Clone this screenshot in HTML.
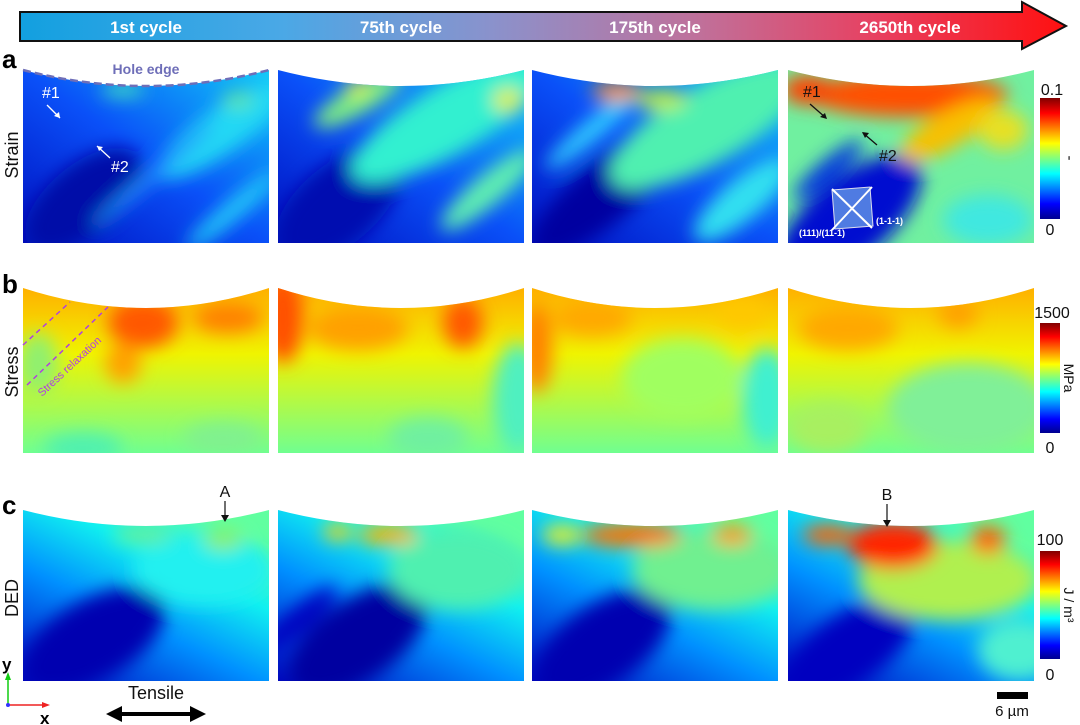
<!DOCTYPE html>
<html><head><meta charset="utf-8"><style>
html,body{margin:0;padding:0;background:#fff;}
svg{display:block;font-family:"Liberation Sans",Arial,sans-serif;}
</style></head><body>
<svg width="1080" height="725" viewBox="0 0 1080 725" xmlns="http://www.w3.org/2000/svg">
<defs>
<linearGradient id="bar" x1="0" x2="1" y1="0" y2="0">
<stop offset="0" stop-color="#12a0e0"/><stop offset="0.25" stop-color="#4aa8e6"/>
<stop offset="0.45" stop-color="#8a92cc"/><stop offset="0.65" stop-color="#c0709a"/>
<stop offset="0.82" stop-color="#e84060"/><stop offset="1" stop-color="#ff1010"/>
</linearGradient>
<linearGradient id="jet" x1="0" x2="0" y1="1" y2="0">
<stop offset="0" stop-color="#00008f"/><stop offset="0.125" stop-color="#0000ff"/>
<stop offset="0.375" stop-color="#00ffff"/><stop offset="0.625" stop-color="#ffff00"/>
<stop offset="0.875" stop-color="#ff0000"/><stop offset="1" stop-color="#800000"/>
</linearGradient>
<filter id="bl" x="-20%" y="-20%" width="140%" height="140%"><feGaussianBlur stdDeviation="9"/></filter>
<clipPath id="ca"><path d="M0,0 Q123,32 246,0 L246,173 L0,173 Z"/></clipPath>
<clipPath id="cb"><path d="M0,0 Q123,40 246,0 L246,165 L0,165 Z"/></clipPath>
<clipPath id="cc"><path d="M0,0 Q123,32 246,0 L246,171 L0,171 Z"/></clipPath>
<linearGradient id="sa" x1="0" y1="1" x2="1" y2="0"><stop offset="0" stop-color="#0010c0"/><stop offset="0.5" stop-color="#0a50f8"/><stop offset="1" stop-color="#10c8f8"/></linearGradient>
<linearGradient id="sb" x1="0" y1="0" x2="0" y2="1"><stop offset="0" stop-color="#ffb000"/><stop offset="0.4" stop-color="#f0f400"/><stop offset="1" stop-color="#70ff90"/></linearGradient>
<linearGradient id="sc" x1="0" y1="1" x2="0.7" y2="0"><stop offset="0" stop-color="#0008c0"/><stop offset="0.45" stop-color="#0090ff"/><stop offset="0.75" stop-color="#10f0f0"/><stop offset="1" stop-color="#60ffa0"/></linearGradient>
</defs>

<path d="M20,12 L1022,12 L1022,2 L1066,26 L1022,49 L1022,41 L20,41 Z" fill="url(#bar)" stroke="#111" stroke-width="2"/>
<g fill="#fff" font-weight="bold" font-size="17" text-anchor="middle">
<text x="146" y="33">1st cycle</text><text x="401" y="33">75th cycle</text>
<text x="655" y="33">175th cycle</text><text x="910" y="33">2650th cycle</text>
</g>

<!-- ROW A strain -->
<g transform="translate(23,70)" clip-path="url(#ca)">
<rect width="246" height="173" fill="url(#sa)"/>
<g filter="url(#bl)">
<ellipse cx="60" cy="130" rx="70" ry="35" fill="#0008a8" transform="rotate(-40 60 130)"/>
<ellipse cx="200" cy="60" rx="80" ry="22" fill="#20d8f4" transform="rotate(-35 200 60)"/>
<ellipse cx="130" cy="105" rx="80" ry="6" fill="#2090ff" transform="rotate(-40 130 105)"/>
<ellipse cx="210" cy="140" rx="60" ry="10" fill="#20c8f8" transform="rotate(-40 210 140)"/>
<ellipse cx="100" cy="20" rx="22" ry="7" fill="#40e0c0"/>
<ellipse cx="215" cy="30" rx="16" ry="8" fill="#60e8a0"/>
</g></g>
<g transform="translate(278,70)" clip-path="url(#ca)">
<rect width="246" height="173" fill="url(#sa)"/>
<g filter="url(#bl)">
<ellipse cx="60" cy="135" rx="75" ry="40" fill="#0008b0" transform="rotate(-40 60 135)"/>
<ellipse cx="170" cy="50" rx="110" ry="34" fill="#30f0d0" transform="rotate(-30 170 50)"/>
<ellipse cx="80" cy="30" rx="50" ry="14" fill="#80f080" transform="rotate(-30 80 30)"/>
<ellipse cx="210" cy="120" rx="60" ry="15" fill="#60f0b0" transform="rotate(-40 210 120)"/>
<ellipse cx="230" cy="30" rx="15" ry="12" fill="#e0f040"/>
<ellipse cx="80" cy="18" rx="12" ry="8" fill="#e0f040"/>
</g></g>
<g transform="translate(532,70)" clip-path="url(#ca)">
<rect width="246" height="173" fill="url(#sa)"/>
<g filter="url(#bl)">
<ellipse cx="70" cy="125" rx="90" ry="30" fill="#0006a0" transform="rotate(-40 70 125)"/>
<ellipse cx="175" cy="55" rx="110" ry="38" fill="#50f0b0" transform="rotate(-30 175 55)"/>
<ellipse cx="60" cy="60" rx="60" ry="10" fill="#30d0ff" transform="rotate(-40 60 60)"/>
<ellipse cx="85" cy="22" rx="25" ry="9" fill="#ff9000"/>
<ellipse cx="130" cy="30" rx="25" ry="10" fill="#c0f040"/>
<ellipse cx="210" cy="130" rx="60" ry="20" fill="#30e0f0" transform="rotate(-40 210 130)"/>
</g></g>
<g transform="translate(788,70)" clip-path="url(#ca)">
<rect width="246" height="173" fill="#70f0a0"/>
<g filter="url(#bl)">
<ellipse cx="60" cy="150" rx="90" ry="40" fill="#0010d0" transform="rotate(-40 60 150)"/>
<ellipse cx="40" cy="100" rx="45" ry="10" fill="#0030e0" transform="rotate(-40 40 100)"/>
<ellipse cx="120" cy="25" rx="100" ry="22" fill="#ff5000"/>
<ellipse cx="160" cy="60" rx="55" ry="18" fill="#f8c000" transform="rotate(-30 160 60)"/>
<ellipse cx="20" cy="20" rx="25" ry="15" fill="#ff4000"/>
<ellipse cx="215" cy="60" rx="25" ry="20" fill="#e8e020"/>
<ellipse cx="200" cy="150" rx="45" ry="25" fill="#40e8e0"/>
</g></g>

<!-- ROW B stress -->
<g transform="translate(23,288)" clip-path="url(#cb)">
<rect width="246" height="165" fill="url(#sb)"/>
<g filter="url(#bl)">
<ellipse cx="120" cy="35" rx="35" ry="25" fill="#ff5800"/>
<ellipse cx="205" cy="30" rx="35" ry="15" fill="#ff8000"/>
<ellipse cx="100" cy="75" rx="18" ry="20" fill="#ffa000"/>
<ellipse cx="15" cy="75" rx="20" ry="30" fill="#90f070"/>
<ellipse cx="60" cy="160" rx="40" ry="15" fill="#50f0b0"/>
<ellipse cx="200" cy="150" rx="40" ry="15" fill="#80f090"/>
</g></g>
<g transform="translate(278,288)" clip-path="url(#cb)">
<rect width="246" height="165" fill="url(#sb)"/>
<g filter="url(#bl)">
<ellipse cx="5" cy="30" rx="20" ry="45" fill="#ff5000"/>
<ellipse cx="80" cy="40" rx="50" ry="22" fill="#ffa000"/>
<ellipse cx="185" cy="35" rx="20" ry="25" fill="#ff5800"/>
<ellipse cx="240" cy="110" rx="25" ry="55" fill="#50f0c0"/>
<ellipse cx="150" cy="150" rx="40" ry="20" fill="#70f0a0"/>
</g></g>
<g transform="translate(532,288)" clip-path="url(#cb)">
<rect width="246" height="165" fill="url(#sb)"/>
<g filter="url(#bl)">
<ellipse cx="5" cy="60" rx="15" ry="45" fill="#ff8000"/>
<ellipse cx="60" cy="30" rx="40" ry="18" fill="#ffa800"/>
<ellipse cx="150" cy="90" rx="60" ry="40" fill="#a0ff60"/>
<ellipse cx="235" cy="110" rx="25" ry="50" fill="#40f0d0"/>
<ellipse cx="210" cy="25" rx="25" ry="15" fill="#ffc800"/>
</g></g>
<g transform="translate(788,288)" clip-path="url(#cb)">
<rect width="246" height="165" fill="url(#sb)"/>
<g filter="url(#bl)">
<ellipse cx="60" cy="40" rx="50" ry="22" fill="#ffa800"/>
<ellipse cx="170" cy="25" rx="20" ry="15" fill="#ffa000"/>
<ellipse cx="180" cy="120" rx="80" ry="45" fill="#80f098"/>
<ellipse cx="40" cy="140" rx="40" ry="25" fill="#a8f060"/>
</g></g>

<!-- ROW C DED -->
<g transform="translate(23,510)" clip-path="url(#cc)">
<rect width="246" height="171" fill="url(#sc)"/>
<g filter="url(#bl)">
<ellipse cx="70" cy="130" rx="80" ry="40" fill="#0000b0" transform="rotate(-30 70 130)"/>
<ellipse cx="180" cy="60" rx="70" ry="35" fill="#20f0f0"/>
<ellipse cx="200" cy="30" rx="20" ry="10" fill="#90f060"/>
<ellipse cx="120" cy="25" rx="30" ry="10" fill="#60f0a0"/>
</g></g>
<g transform="translate(278,510)" clip-path="url(#cc)">
<rect width="246" height="171" fill="url(#sc)"/>
<g filter="url(#bl)">
<ellipse cx="80" cy="130" rx="80" ry="40" fill="#0000a0" transform="rotate(-35 80 130)"/>
<ellipse cx="20" cy="110" rx="50" ry="12" fill="#0000c0" transform="rotate(-40 20 110)"/>
<ellipse cx="180" cy="60" rx="70" ry="40" fill="#50f0b0"/>
<ellipse cx="110" cy="25" rx="30" ry="10" fill="#ffb000"/>
<ellipse cx="60" cy="22" rx="15" ry="8" fill="#ffd000"/>
</g></g>
<g transform="translate(532,510)" clip-path="url(#cc)">
<rect width="246" height="171" fill="url(#sc)"/>
<g filter="url(#bl)">
<ellipse cx="70" cy="135" rx="80" ry="40" fill="#0000b0" transform="rotate(-35 70 135)"/>
<ellipse cx="180" cy="60" rx="80" ry="40" fill="#70f090"/>
<ellipse cx="100" cy="25" rx="50" ry="12" fill="#ff7000"/>
<ellipse cx="200" cy="25" rx="20" ry="10" fill="#ff9800"/>
<ellipse cx="30" cy="25" rx="20" ry="10" fill="#e8f020"/>
</g></g>
<g transform="translate(788,510)" clip-path="url(#cc)">
<rect width="246" height="171" fill="url(#sc)"/>
<g filter="url(#bl)">
<ellipse cx="60" cy="140" rx="80" ry="35" fill="#0000c0" transform="rotate(-35 60 140)"/>
<ellipse cx="160" cy="70" rx="90" ry="40" fill="#b0f050"/>
<ellipse cx="105" cy="35" rx="45" ry="24" fill="#ff2800"/>
<ellipse cx="40" cy="25" rx="25" ry="10" fill="#ff6000"/>
<ellipse cx="200" cy="30" rx="18" ry="14" fill="#ff6000"/>
<ellipse cx="230" cy="140" rx="40" ry="30" fill="#50f0d0"/>
</g></g>

<rect x="1040" y="98" width="20" height="121" fill="url(#jet)"/>
<rect x="1040" y="323" width="20" height="110" fill="url(#jet)"/>
<rect x="1040" y="551" width="20" height="108" fill="url(#jet)"/>
<g font-size="16" fill="#111" text-anchor="middle">
<text x="1052" y="95">0.1</text><text x="1050" y="235">0</text>
<text x="1052" y="318">1500</text><text x="1050" y="453">0</text>
<text x="1050" y="545">100</text><text x="1050" y="680">0</text>
<text transform="translate(1065,158) rotate(90)" font-size="15">-</text>
<text transform="translate(1064,378) rotate(90)" font-size="14">MPa</text>
<text transform="translate(1064,605) rotate(90)" font-size="14">J / m³</text>
</g>

<g font-weight="bold" font-size="26" fill="#000">
<text x="2" y="68">a</text><text x="2" y="293">b</text><text x="2" y="514">c</text>
</g>
<g font-size="18" fill="#111" text-anchor="middle">
<text transform="translate(18,155) rotate(-90)">Strain</text>
<text transform="translate(18,372) rotate(-90)">Stress</text>
<text transform="translate(18,598) rotate(-90)">DED</text>
</g>

<path d="M23,70 Q146,102 269,70" fill="none" stroke="#6e6eb8" stroke-width="2.5" stroke-dasharray="8,4"/>
<text x="146" y="74" fill="#6e6eb8" font-weight="bold" font-size="14" text-anchor="middle">Hole edge</text>

<g fill="#fff" font-size="16">
<text x="42" y="98">#1</text><text x="111" y="172">#2</text>
</g>
<g stroke="#fff" stroke-width="1.3"><line x1="47" y1="105" x2="60" y2="118"/><line x1="110" y1="158" x2="97" y2="146"/></g>
<path d="M60,118 l-1,-6 l-5,4 z M97,146 l6,1 l-4,4 z" fill="#fff"/>
<text x="803" y="97" font-size="16" fill="#111">#1</text><text x="879" y="161" font-size="16" fill="#111">#2</text>
<g stroke="#111" stroke-width="1.3"><line x1="810" y1="104" x2="826" y2="118"/><line x1="877" y1="145" x2="863" y2="133"/></g>
<path d="M827,119 l-2,-6 l-5,4 z M862,132 l7,1 l-4,5 z" fill="#111"/>
<polygon points="832,190 870,187 873,226 835,229" fill="#6aa0e8" fill-opacity="0.75" stroke="#dde" stroke-width="1"/>
<g stroke="#fff" stroke-width="2"><line x1="832" y1="230" x2="872" y2="187"/><line x1="832" y1="189" x2="872" y2="228"/></g>
<g fill="#fff" font-size="9" font-weight="bold"><text x="799" y="236">(111)/(11-1)</text><text x="876" y="224">(1-1-1)</text></g>

<g stroke="#b040e0" stroke-width="1.5" stroke-dasharray="5,4">
<line x1="23" y1="345" x2="70" y2="302"/><line x1="27" y1="385" x2="108" y2="307"/>
</g>
<text transform="translate(42,397) rotate(-43)" fill="#b040e0" font-size="11">Stress relaxation</text>

<text x="225" y="497" font-size="16" text-anchor="middle" fill="#111">A</text>
<line x1="225" y1="501" x2="225" y2="519" stroke="#111" stroke-width="1.2"/><path d="M221,515 L225,522 L229,515 Z" fill="#111"/>
<text x="887" y="500" font-size="16" text-anchor="middle" fill="#111">B</text>
<line x1="887" y1="504" x2="887" y2="524" stroke="#111" stroke-width="1.2"/><path d="M883,520 L887,527 L891,520 Z" fill="#111"/>

<line x1="8" y1="705" x2="8" y2="677" stroke="#1c1" stroke-width="1.5"/><path d="M5,680 L8,672 L11,680 Z" fill="#1c1"/>
<line x1="8" y1="705" x2="44" y2="705" stroke="#e22" stroke-width="1.5"/><path d="M42,702 L50,705 L42,708 Z" fill="#e22"/>
<circle cx="8" cy="705" r="2" fill="#33f"/>
<text x="2" y="670" font-weight="bold" font-size="17">y</text>
<text x="40" y="724" font-weight="bold" font-size="17">x</text>
<text x="156" y="699" font-size="18" text-anchor="middle" fill="#111">Tensile</text>
<line x1="118" y1="714" x2="194" y2="714" stroke="#000" stroke-width="4"/>
<path d="M106,714 L122,706 L122,722 Z M206,714 L190,706 L190,722 Z" fill="#000"/>

<rect x="997" y="692" width="31" height="7" fill="#000"/>
<text x="1012" y="716" font-size="15" text-anchor="middle" fill="#111">6 µm</text>
</svg>
</body></html>
